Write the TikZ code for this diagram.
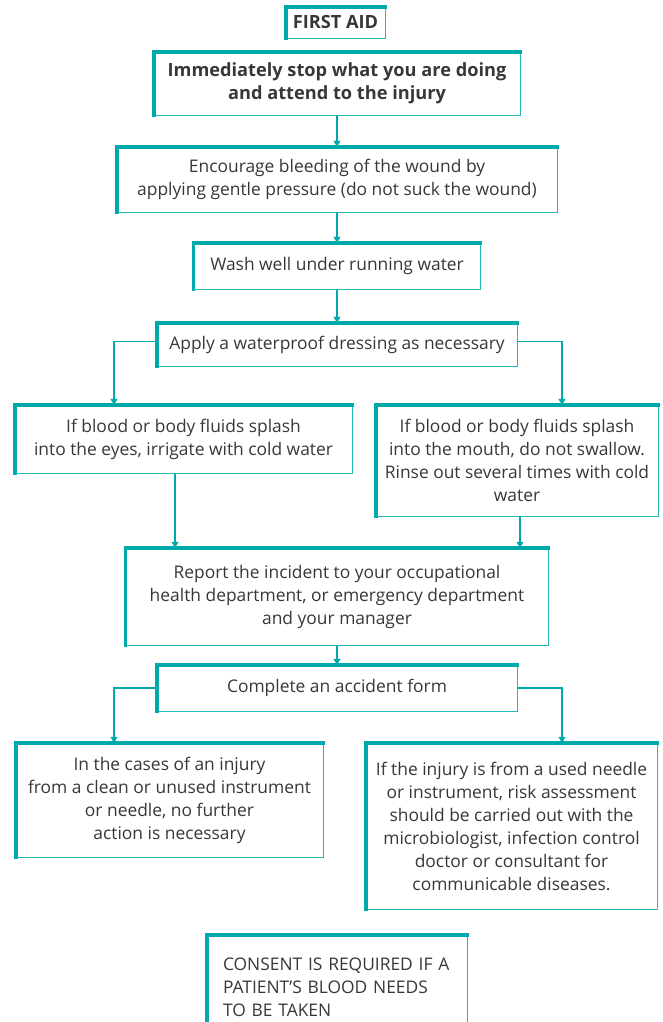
\documentclass[tikz,border=0pt]{standalone}
\usepackage{fontspec}
\setmainfont{Open Sans}
\usetikzlibrary{arrows.meta}

\definecolor{aidteal}{RGB}{0,170,170}
\definecolor{aidtext}{RGB}{55,55,55}

% heavy edge on top and left, light edge on bottom and right
\newcommand{\frameit}[1]{%
  \draw[thinedge] (#1.north east) -- (#1.south east) -- (#1.south west);
  \draw[thickedge] (#1.south west) -- (#1.north west) -- (#1.north east);}

\begin{document}
\begin{tikzpicture}[
    x=1pt, y=-1pt,
    stepbox/.style={inner sep=0pt, align=center, text=aidtext, font=\fontsize{17.4}{23}\selectfont},
    boldbox/.style={stepbox, font=\fontsize{18.2}{23}\selectfont\bfseries},
    thickedge/.style={aidteal, line width=3.5pt, line cap=rect},
    thinedge/.style={aidteal!85, line width=1.3pt},
    arrow/.style={aidteal, line width=1.2pt, -{Triangle[length=6pt, width=7pt]}}
]

    \useasboundingbox (0,0) rectangle (662,1022);
    \clip (0,0) rectangle (662,1022);

    % Main column
    \node[boldbox, minimum width=99pt, minimum height=31pt] (title) at (335.5,22.5) {FIRST AID};
    \node[boldbox, minimum width=366pt, minimum height=63pt] (stop) at (337,83.5)
        {Immediately stop what you are doing\\and attend to the injury};
    \node[stepbox, minimum width=440pt, minimum height=65pt] (bleed) at (337,179.5)
        {Encourage bleeding of the wound by\\applying gentle pressure (do not suck the wound)};
    \node[stepbox, minimum width=287pt, minimum height=46pt] (wash) at (337,266)
        {Wash well under running water};
    \node[stepbox, minimum width=360pt, minimum height=43pt] (dress) at (337,344.5)
        {Apply a waterproof dressing as necessary};

    % Splash cases
    \node[stepbox, minimum width=337pt, minimum height=68pt] (eyes) at (183.5,439)
        {If blood or body fluids splash\\into the eyes, irrigate with cold water};
    \node[stepbox, minimum width=282pt, minimum height=111pt] (mouth) at (517,460.5)
        {If blood or body fluids splash\\into the mouth, do not swallow.\\Rinse out several times with cold\\water};

    % Reporting
    \node[stepbox, minimum width=423pt, minimum height=97pt] (report) at (337,596.5)
        {Report the incident to your occupational\\health department, or emergency department\\and your manager};
    \node[stepbox, minimum width=360pt, minimum height=46pt] (form) at (337,688)
        {Complete an accident form};

    % Injury cases
    \node[stepbox, minimum width=307pt, minimum height=114pt] (clean) at (169.5,800)
        {In the cases of an injury\\from a clean or unused instrument\\or needle, no further\\action is necessary};
    \node[stepbox, minimum width=291pt, minimum height=166pt] (used) at (511.5,826)
        {If the injury is from a used needle\\or instrument, risk assessment\\should be carried out with the\\microbiologist, infection control\\doctor or consultant for\\communicable diseases.};

    % Note at the foot, runs off the page
    \node[stepbox, align=left, text width=228pt, minimum width=260pt, minimum height=105pt] (consent) at (337,987.5)
        {CONSENT IS REQUIRED IF A\\PATIENT'S BLOOD NEEDS\\TO BE TAKEN};

    \foreach \n in {title, stop, bleed, wash, dress, eyes, mouth, report, form, clean, used, consent} {
        \frameit{\n}
    }

    % Connectors
    \coordinate (lbranch) at (114,0);
    \coordinate (rbranch) at (562,0);
    \coordinate (eyesdrop) at (175,0);
    \coordinate (mouthdrop) at (520,0);

    \draw[arrow] (stop.south) -- (bleed.north);
    \draw[arrow] (bleed.south) -- (wash.north);
    \draw[arrow] (wash.south) -- (dress.north);
    \draw[arrow] ([yshift=3pt]dress.west) -| (lbranch |- eyes.north);
    \draw[arrow] ([yshift=3pt]dress.east) -| (rbranch |- mouth.north);
    \draw[arrow] (eyesdrop |- eyes.south) -- (eyesdrop |- report.north);
    \draw[arrow] (mouthdrop |- mouth.south) -- (mouthdrop |- report.north);
    \draw[arrow] (report.south) -- (form.north);
    \draw[arrow] (form.west) -| (lbranch |- clean.north);
    \draw[arrow] (form.east) -| (rbranch |- used.north);

\end{tikzpicture}
\end{document}
